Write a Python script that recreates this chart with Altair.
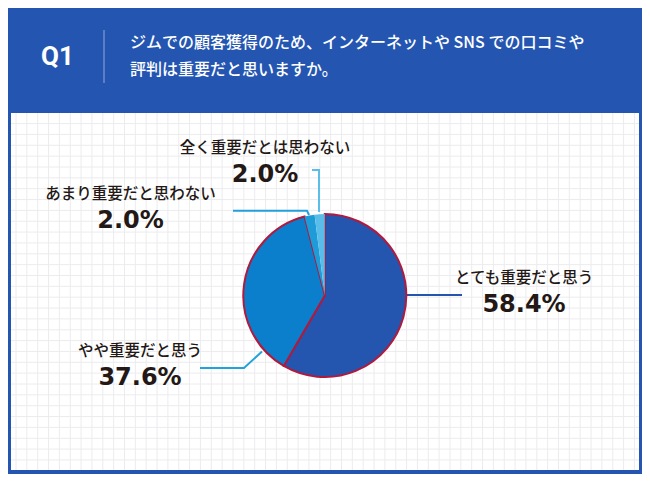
import altair as alt
import pandas as pd

# ---------------- data ----------------
categories = ["とても重要だと思う", "やや重要だと思う", "あまり重要だと思わない", "全く重要だとは思わない"]
values = [58.4, 37.6, 2.0, 2.0]
question_no = "Q1"
question_lines = ["ジムでの顧客獲得のため、インターネットや SNS での口コミや", "評判は重要だと思いますか。"]

# ---------------- styles ----------------
slice_colors = ["#2455AF", "#0B7FCB", "#1E9CD7", "#5ABCE9"]
slice_stroke = [2, 2, 0, 0]
leader_colors = ["#2455AF", "#22A2DA", "#22A0DA", "#5BBDE8"]
STROKE = "#B01A3F"
HEADER = "#2456B1"
TEXT = "#231815"
GRID = "#ECECEF"
JP = "Noto Sans CJK JP"

# ---------------- layout (reference page coordinates) ----------------
OX, OY = 8, 8
W, H = 634, 466
PANEL_TOP = 113
PIE_CX, PIE_CY, PIE_R = 324.8, 295.5, 81.5
label_x = [524, 140, 130.5, 265]
label_y = [278, 350.5, 193.5, 148]
pct_y = [305, 377.5, 220.5, 174.5]
leader_pts = [
    [(407, 295), (462, 295)],
    [(262, 351.5), (244, 368), (200, 368)],
    [(309, 215), (307, 210.7), (233, 210.7)],
    [(319, 212), (319, 170), (312, 170)],
]
grid_x = [round(16 + 10.85 * k, 2) for k in range(60) if OX + 3 <= 16 + 10.85 * k <= OX + W - 3]
grid_y = [round(405.7 - 10.85 * k, 2) for k in range(-8, 30)
          if PANEL_TOP + 1 <= 405.7 - 10.85 * k <= OY + H - 4]

xs = alt.Scale(domain=[OX, OX + W], nice=False, zero=False)
ys = alt.Scale(domain=[OY, OY + H], nice=False, zero=False, reverse=True)


def X(f):
    return alt.X(f, type="quantitative", scale=xs, axis=None)


def Y(f):
    return alt.Y(f, type="quantitative", scale=ys, axis=None)


# grid (background decoration)
vgrid = alt.Chart(pd.DataFrame({"x": grid_x, "y": PANEL_TOP, "y2": OY + H - 4})).mark_rule(
    color=GRID, strokeWidth=1).encode(x=X("x"), y=Y("y"), y2="y2:Q")
hgrid = alt.Chart(pd.DataFrame({"y": grid_y, "x": OX + 3, "x2": OX + W - 3})).mark_rule(
    color=GRID, strokeWidth=1).encode(y=Y("y"), x=X("x"), x2="x2:Q")

# frame rects
rects = pd.DataFrame({
    "x": [OX, OX, OX + W - 3, OX],
    "x2": [OX + W, OX + 3, OX + W, OX + W],
    "y": [OY, OY, OY, OY + H - 4],
    "y2": [PANEL_TOP, OY + H, OY + H, OY + H],
})
frame = alt.Chart(rects).mark_rect(color=HEADER).encode(
    x=X("x"), x2="x2:Q", y=Y("y"), y2="y2:Q",
)

# pie
pie_df = pd.DataFrame({
    "cat": categories, "value": values, "idx": list(range(len(values))),
    "fill": slice_colors, "sw": slice_stroke,
})
pie = alt.Chart(pie_df).mark_arc(outerRadius=PIE_R, stroke=STROKE).encode(
    theta=alt.Theta("value:Q", stack=True),
    order=alt.Order("idx:Q"),
    color=alt.Color("fill:N", scale=None),
    strokeWidth=alt.StrokeWidth("sw:Q", scale=None),
    x=alt.value(PIE_CX - OX),
    y=alt.value(PIE_CY - OY),
)

# leader lines
rows = []
for i, pts in enumerate(leader_pts):
    for j, (px, py) in enumerate(pts):
        rows.append({"cat": categories[i], "o": j, "x": px, "y": py, "c": leader_colors[i]})
lead_df = pd.DataFrame(rows)
leaders = alt.Chart(lead_df).mark_line(strokeWidth=2).encode(
    x=X("x"), y=Y("y"),
    detail="cat:N",
    order="o:Q",
    color=alt.Color("c:N", scale=None),
)

# labels
lab_df = pd.DataFrame({
    "cat": categories,
    "pct": [f"{v:.1f}%" for v in values],
    "x": label_x, "y": label_y, "py": pct_y,
})
labels = alt.Chart(lab_df).mark_text(font=JP, fontWeight=500, fontSize=15.5, color=TEXT,
                                     align="center", baseline="middle").encode(
    x=X("x"), y=Y("y"), text="cat:N",
)
pcts = alt.Chart(lab_df).mark_text(font="DejaVu Sans", fontWeight="bold", fontSize=24, color=TEXT,
                                   align="center", baseline="middle").encode(
    x=X("x"), y=Y("py"), text="pct:N",
)

# header
q_df = pd.DataFrame({"t": [question_no], "x": [57.5], "y": [56.5]})
qno = alt.Chart(q_df).mark_text(font="Roboto", fontWeight="bold", fontSize=26, color="white",
                                align="center", baseline="middle").encode(
    x=X("x"), y=Y("y"), text="t:N",
)
t_df = pd.DataFrame({"t": question_lines, "x": [130, 130], "y": [43, 70]})
title = alt.Chart(t_df).mark_text(font=JP, fontWeight=500, fontSize=16, color="white",
                                  align="left", baseline="middle").encode(
    x=X("x"), y=Y("y"), text="t:N",
)
d_df = pd.DataFrame({"x": [104], "y": [30], "y2": [83]})
divider = alt.Chart(d_df).mark_rule(color="#8FA8DC", strokeWidth=1).encode(
    x=X("x"), y=Y("y"), y2="y2:Q",
)

chart = alt.layer(vgrid, hgrid, frame, leaders, pie, labels, pcts, qno, title, divider).properties(
    width=W, height=H, padding=0, background="white"
).configure_view(stroke=None)

chart.save("out.html", embed_options={"renderer": "svg", "actions": False})
